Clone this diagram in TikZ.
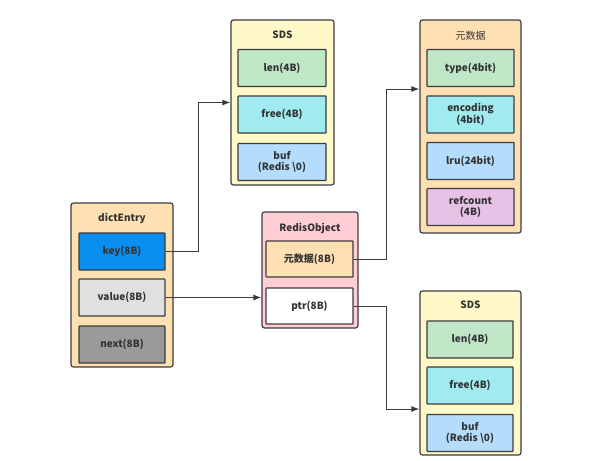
\documentclass[tikz,border=0pt]{standalone}
\usepackage{fontspec}
\setmainfont{Noto Sans CJK SC}
\usepackage{xcolor}
\usepackage{tikz}
\usetikzlibrary{arrows.meta,positioning,calc}
\definecolor{redisline}{HTML}{3C3C3C}
\definecolor{redistext}{HTML}{333333}
\definecolor{redispeach}{HTML}{FFE0B3}
\definecolor{redisyellow}{HTML}{FFF8C8}
\definecolor{redispink}{HTML}{FFCDD5}
\definecolor{redisblue}{HTML}{0A8EF0}
\definecolor{redislight}{HTML}{E0E0E0}
\definecolor{redisgray}{HTML}{9A9A9A}
\definecolor{redisgreen}{HTML}{C0E6C8}
\definecolor{rediscyan}{HTML}{A0EBF0}
\definecolor{redissky}{HTML}{B4DCFC}
\definecolor{redisplum}{HTML}{E8C2E6}

\begin{document}
\begin{tikzpicture}[
    x=1pt,y=-1pt,
    outer/.style = {rectangle, draw=redisline, line width=1.2pt,
                    rounded corners=2.5pt, inner sep=0pt},
    cell/.style  = {rectangle, draw=redisline, line width=1.2pt,
                    rounded corners=0.6pt, align=center, text=redistext,
                    font=\fontsize{10}{11.5}\selectfont\bfseries,
                    minimum width=87pt, minimum height=37pt, inner sep=1pt},
    ttl/.style   = {text=redistext, font=\fontsize{10}{11.5}\selectfont\bfseries},
    link/.style  = {-{Latex[length=8pt,width=6pt]}, redisline, line width=1pt},
  ]

  \useasboundingbox (0,0) rectangle (593,460);

  % dictEntry
  \node[outer,fill=redispeach,minimum width=102pt,minimum height=164pt]
       (dict) at (122,285) {};
  \node[ttl] (dictt) at (122,218) {dictEntry};
  \node[cell,fill=redisblue,minimum width=86pt]  (key)  at (122,251.5) {key(8B)};
  \node[cell,fill=redislight,minimum width=86pt] (val)  at (122,297.5) {value(8B)};
  \node[cell,fill=redisgray,minimum width=86pt]  (next) at (122,344.5) {next(8B)};

  % SDS (key)
  \node[outer,fill=redisyellow,minimum width=103pt,minimum height=165pt]
       (sdsA) at (282.5,102.5) {};
  \node[ttl] (sdsAt) at (282.5,35) {SDS};
  \node[cell,fill=redisgreen,minimum width=88pt] (lenA)  at (282,68)    {len(4B)};
  \node[cell,fill=rediscyan,minimum width=88pt]  (freeA) at (282,114.5) {free(4B)};
  \node[cell,fill=redissky,minimum width=88pt]   (bufA)  at (282,162)   {buf\\(Redis \textbackslash0)};

  % RedisObject
  \node[outer,fill=redispink,minimum width=96pt,minimum height=116pt]
       (robj) at (310,270) {};
  \node[ttl] (robjt) at (310,228) {RedisObject};
  \node[cell,fill=redispeach,minimum height=36pt] (meta8) at (309.5,259) {元数据(8B)};
  \node[cell,fill=white,minimum height=36pt]      (ptr)   at (309.5,306) {ptr(8B)};

  % 元数据
  \node[outer,fill=redispeach,minimum width=101pt,minimum height=213pt]
       (meta) at (470.5,126.5) {};
  \node[ttl,font=\fontsize{10}{11.5}\selectfont] (metat) at (470.5,36) {元数据};
  \node[cell,fill=redisgreen] (type) at (470.5,68)    {type(4bit)};
  \node[cell,fill=rediscyan]  (enc)  at (470.5,114.5) {encoding\\(4bit)};
  \node[cell,fill=redissky]   (lru)  at (470.5,161)   {lru(24bit)};
  \node[cell,fill=redisplum]  (ref)  at (470.5,207)   {refcount\\(4B)};

  % SDS (value)
  \node[outer,fill=redisyellow,minimum width=101pt,minimum height=164pt]
       (sdsB) at (470.5,373) {};
  \node[ttl] (sdsBt) at (470.5,305) {SDS};
  \node[cell,fill=redisgreen,minimum width=86pt] (lenB)  at (470,339.5) {len(4B)};
  \node[cell,fill=rediscyan,minimum width=86pt]  (freeB) at (470,385.5) {free(4B)};
  \node[cell,fill=redissky,minimum width=86pt]   (bufB)  at (470,433)   {buf\\(Redis \textbackslash0)};

  % links
  \draw[link] (key.east) -- ++(33,0) |- (sdsA.west);
  \draw[link] (val.east) -- (val.east -| robj.west);
  \draw[link] (meta8.east) -- ++(33,0) |- (meta.west |- 0,89);
  \draw[link] (ptr.east) -- ++(33,0) |- (sdsB.west |- 0,409);

\end{tikzpicture}
\end{document}
